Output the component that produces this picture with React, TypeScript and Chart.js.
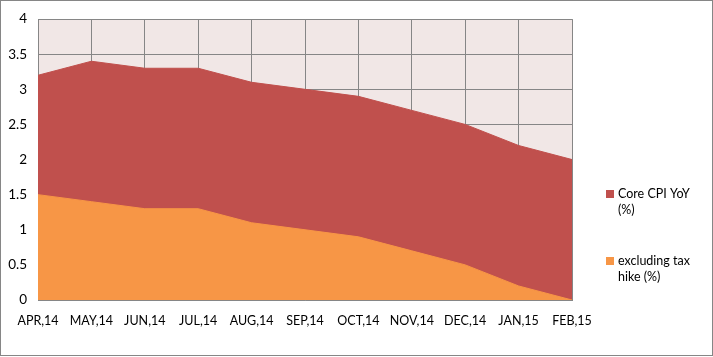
import React, { useEffect, useRef } from "react";
import { Chart, registerables } from "chart.js";

Chart.register(...registerables);

const categories = ["APR,14", "MAY,14", "JUN,14", "JUL,14", "AUG,14", "SEP,14", "OCT,14", "NOV,14", "DEC,14", "JAN,15", "FEB,15"];
const coreCpi = [3.2, 3.4, 3.3, 3.3, 3.1, 3.0, 2.9, 2.7, 2.5, 2.2, 2.0];
const exTax = [1.5, 1.4, 1.3, 1.3, 1.1, 1.0, 0.9, 0.7, 0.5, 0.2, 0.0];
const legendLines = [["Core CPI YoY", "(%)"], ["excluding tax", "hike (%)"]];
const seriesColors = ["#c0504d", "#f79646"];
const FONT = "Lato, 'Open Sans', sans-serif";
const GRID = "#868686";

const decor = {
  id: "decor",
  beforeDraw(chart: any) {
    const { ctx, chartArea, width, height } = chart;
    ctx.save();
    ctx.fillStyle = "#ffffff";
    ctx.fillRect(0, 0, width, height);
    ctx.fillStyle = "#f1e7e6";
    ctx.fillRect(chartArea.left, chartArea.top, chartArea.right - chartArea.left, chartArea.bottom - chartArea.top);
    ctx.restore();
  },
  afterDraw(chart: any) {
    const { ctx, width, height } = chart;
    ctx.save();
    ctx.strokeStyle = GRID;
    ctx.lineWidth = 1;
    ctx.strokeRect(0.5, 0.5, width - 1, height - 2);
    const ys = [194, 261];
    ctx.font = "12.5px " + FONT;
    ctx.textBaseline = "middle";
    ctx.textAlign = "left";
    legendLines.forEach((lines, i) => {
      const y = ys[i];
      ctx.fillStyle = seriesColors[i];
      ctx.fillRect(606, y - 4, 8, 8);
      ctx.fillStyle = "#000000";
      lines.forEach((t, j) => ctx.fillText(t, 618, y + j * 16));
    });
    ctx.restore();
  },
};

export default function App() {
  const ref = useRef<HTMLCanvasElement | null>(null);
  useEffect(() => {
    if (!ref.current) return;
    const chart = new Chart(ref.current, {
      type: "line",
      data: {
        labels: categories,
        datasets: [
          {
            label: "Core CPI YoY (%)",
            data: coreCpi,
            backgroundColor: seriesColors[0],
            borderColor: seriesColors[0],
            borderWidth: 1,
            pointRadius: 0,
            fill: "origin",
            tension: 0,
            order: 2,
          },
          {
            label: "excluding tax hike (%)",
            data: exTax,
            backgroundColor: seriesColors[1],
            borderColor: seriesColors[1],
            borderWidth: 1,
            pointRadius: 0,
            fill: "origin",
            tension: 0,
            order: 1,
          },
        ],
      },
      options: {
        responsive: false,
        animation: false,
        layout: { padding: { top: 14, right: 141, left: 0, bottom: 0 } },
        plugins: { legend: { display: false }, tooltip: { enabled: false } },
        scales: {
          x: {
            offset: false,
            grid: { color: GRID, drawTicks: false, lineWidth: 1 },
            border: { color: GRID },
            ticks: { color: "#000", font: { family: FONT, size: 12.5 }, padding: 13, maxRotation: 0, autoSkip: false },
            afterFit: (s: any) => { s.height = 57; },
          },
          y: {
            min: 0,
            max: 4,
            grid: { color: GRID, drawTicks: false, lineWidth: 1 },
            border: { color: GRID },
            ticks: {
              stepSize: 0.5,
              color: "#000",
              font: { family: FONT, size: 13.5 },
              padding: 11,
              callback: (v: any) => String(Number(v)),
            },
            afterFit: (s: any) => { s.width = 38; },
          },
        },
      },
      plugins: [decor],
    });
    return () => chart.destroy();
  }, []);
  return (
    <div style={{ position: "absolute", left: 0, top: 0, width: 713, height: 357 }}>
      <canvas ref={ref} width={713} height={357} />
    </div>
  );
}
